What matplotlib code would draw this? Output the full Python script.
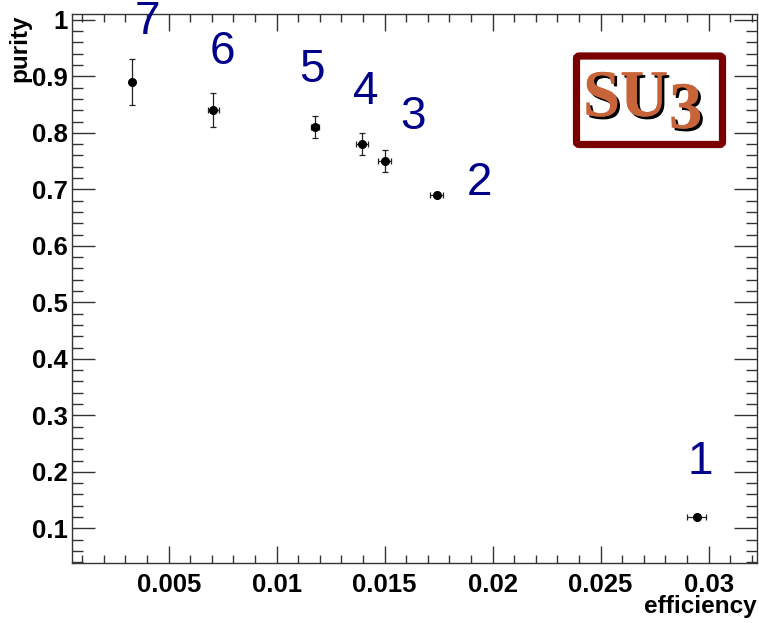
import matplotlib
matplotlib.use("Agg")
import matplotlib.pyplot as plt
from matplotlib.patches import FancyBboxPatch
from matplotlib.ticker import MultipleLocator, FixedLocator
import matplotlib.patheffects as pe

# ---- data ----
efficiency = [0.02946, 0.01742, 0.01501, 0.01395, 0.01177, 0.00706, 0.00330]
purity     = [0.120, 0.690, 0.750, 0.780, 0.810, 0.840, 0.890]
eff_err    = [0.00044, 0.00030, 0.00030, 0.00030, 0.00020, 0.00025, 0.00005]
pur_err    = [0.004, 0.004, 0.020, 0.020, 0.020, 0.030, 0.040]
point_labels = ["1", "2", "3", "4", "5", "6", "7"]
label_x = [0.02960, 0.01941, 0.01631, 0.01413, 0.01163, 0.00750, 0.00400]
label_y = [0.218, 0.711, 0.828, 0.872, 0.911, 0.943, 0.996]
y_ticks = [0.1, 0.2, 0.3, 0.4, 0.5, 0.6, 0.7, 0.8, 0.9, 1.0]
y_tick_labels = ["0.1", "0.2", "0.3", "0.4", "0.5", "0.6", "0.7", "0.8", "0.9", "1"]
x_ticks = [0.005, 0.01, 0.015, 0.02, 0.025, 0.03]
x_tick_labels = ["0.005", "0.01", "0.015", "0.02", "0.025", "0.03"]

W, H = 759, 623
fig = plt.figure(figsize=(W / 100, H / 100), dpi=100)
ax = fig.add_axes([72 / W, 1 - 563 / H, (757 - 72) / W, (563 - 14) / H])

ax.errorbar(efficiency, purity, xerr=eff_err, yerr=pur_err, fmt="o",
            color="black", ecolor="#222222", elinewidth=0.9, capsize=2.5,
            capthick=0.9, markersize=5.5, zorder=3)

for lx, ly, t in zip(label_x, label_y, point_labels):
    ax.text(lx, ly, t, color="#000088", fontsize=33, ha="center", va="center",
            family="Liberation Sans", clip_on=False, zorder=4)

ax.set_xlim(0.000523, 0.03224)
ax.set_ylim(0.0386, 1.0103)

ax.xaxis.set_major_locator(FixedLocator(x_ticks))
ax.set_xticklabels(x_tick_labels)
ax.xaxis.set_minor_locator(MultipleLocator(0.001))
ax.yaxis.set_major_locator(FixedLocator(y_ticks))
ax.set_yticklabels(y_tick_labels)
ax.yaxis.set_minor_locator(MultipleLocator(0.02))

ax.tick_params(which="both", direction="in", top=True, right=True,
               color="#333333", width=1.0, labelsize=18.5)
ax.tick_params(axis="x", which="major", length=12, pad=7)
ax.tick_params(axis="x", which="minor", length=6)
ax.tick_params(axis="y", which="major", length=16.5, pad=3)
ax.tick_params(axis="y", which="minor", length=8)
for lab in ax.get_xticklabels() + ax.get_yticklabels():
    lab.set_fontfamily("Liberation Sans")
    lab.set_fontweight("bold")
for s in ax.spines.values():
    s.set_color("#333333")
    s.set_linewidth(1.0)

fig.text(757 / W, 1 - 607 / H, "efficiency", ha="right", va="center",
         fontsize=17.5, fontweight="bold", family="Liberation Sans")
fig.text(20 / W, 1 - 14 / H, "purity", ha="center", va="top", rotation=90,
         fontsize=17.5, fontweight="bold", family="Liberation Sans")

# SU3 logo box
box = FancyBboxPatch((576.5 / W, 1 - 144.5 / H), 146 / W, 88.5 / H,
                     boxstyle="round,pad=0,rounding_size=0.004",
                     transform=fig.transFigure, facecolor="white",
                     edgecolor="#7a0000", linewidth=5.2, zorder=5)
fig.patches.append(box)
shadow = [pe.withSimplePatchShadow(offset=(2.0, -2.0), shadow_rgbFace="black", alpha=1.0), pe.Normal()]
fig.text(583 / W, 1 - 116 / H, "SU", ha="left", va="baseline", fontsize=48,
         fontweight="bold", family="Liberation Serif", color="#c8643a",
         path_effects=shadow, zorder=6)
fig.text(669 / W, 1 - 128 / H, "3", ha="left", va="baseline", fontsize=48,
         fontweight="bold", family="Liberation Serif", color="#c8643a",
         path_effects=shadow, zorder=6)

fig.savefig("out.png", dpi=100)
